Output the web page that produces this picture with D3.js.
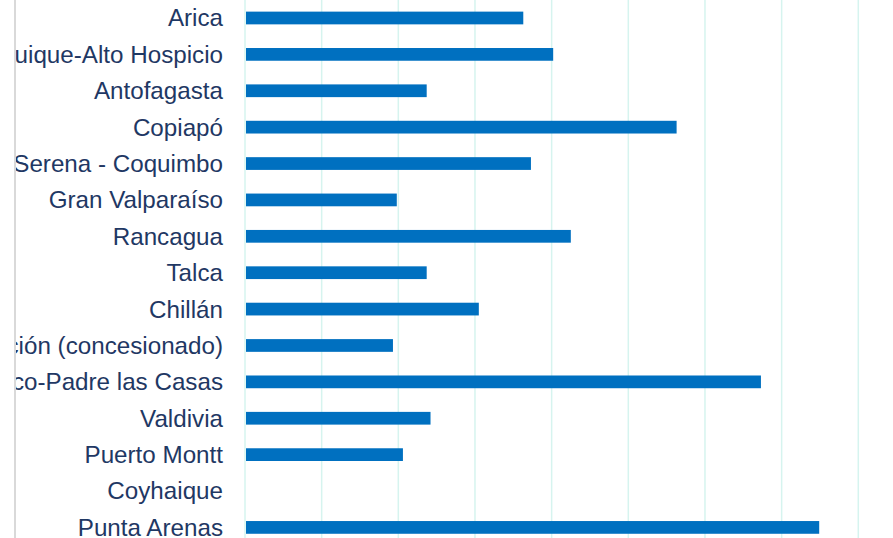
<!DOCTYPE html>
<html>
<head>
<meta charset="utf-8">
<script src="https://cdn.jsdelivr.net/npm/d3@7"></script>
<style>
    html, body { margin: 0; padding: 0; background: #fff; overflow: hidden; }
    svg { display: block; }
</style>
</head>
<body>
<svg id="chart"></svg>
<script>
// categories top to bottom (leftmost labels are cut off in the source)
var cities = [
    'Arica', 'Iquique-Alto Hospicio', 'Antofagasta', 'Copiapó', 'La Serena - Coquimbo',
    'Gran Valparaíso', 'Rancagua', 'Talca', 'Chillán', 'Gran Concepción (concesionado)',
    'Temuco-Padre las Casas', 'Valdivia', 'Puerto Montt', 'Coyhaique', 'Punta Arenas'
];
var values = [3.63, 4.02, 2.37, 5.63, 3.73, 1.98, 4.25, 2.37, 3.05, 1.93, 6.73, 2.42, 2.06, 0, 7.49];
var gridTicks = [0, 1, 2, 3, 4, 5, 6, 7, 8];

(function () {
    var width = 893, height = 538;

    var svg = d3.select('#chart')
        .attr('width', width)
        .attr('height', height);

    var x = d3.scaleLinear()
        .domain([0, 8])
        .range([245, 858.3]);

    var y = d3.scaleBand()
        .domain(cities)
        .range([-0.2, 545.6])
        .paddingInner(0.65)
        .paddingOuter(0.325);

    // the chart frame clips the long labels on the left
    svg.append('clipPath')
        .attr('id', 'frame')
        .append('rect')
            .attr('x', 16).attr('y', 0)
            .attr('width', width - 16).attr('height', height);

    svg.append('line')
        .attr('x1', 15).attr('x2', 15)
        .attr('y1', 0).attr('y2', height)
        .attr('stroke', '#d9d9d9')
        .attr('stroke-width', 2);

    // vertical gridlines
    svg.append('g')
        .selectAll('line')
        .data(gridTicks)
        .enter().append('line')
            .attr('x1', function (d) { return x(d); })
            .attr('x2', function (d) { return x(d); })
            .attr('y1', 0)
            .attr('y2', height)
            .attr('stroke', '#d6f4ef')
            .attr('stroke-width', 1.5);

    // bars
    svg.append('g')
        .selectAll('rect')
        .data(values)
        .enter().append('rect')
            .attr('x', x(0) + 1)
            .attr('y', function (d, i) { return y(cities[i]); })
            .attr('width', function (d) { return Math.max(0, x(d) - x(0) - 1); })
            .attr('height', y.bandwidth())
            .attr('fill', '#0070c0');

    // category labels
    svg.append('g')
        .attr('clip-path', 'url(#frame)')
        .selectAll('text')
        .data(cities)
        .enter().append('text')
            .attr('x', 223)
            .attr('y', function (d) { return y(d) + y.bandwidth() / 2; })
            .attr('dy', '0.35em')
            .attr('text-anchor', 'end')
            .attr('font-family', "'Liberation Sans', Arial, sans-serif")
            .attr('font-size', '24.2px')
            .attr('fill', '#1f3864')
            .text(function (d) { return d; });
}());
</script>
</body>
</html>
